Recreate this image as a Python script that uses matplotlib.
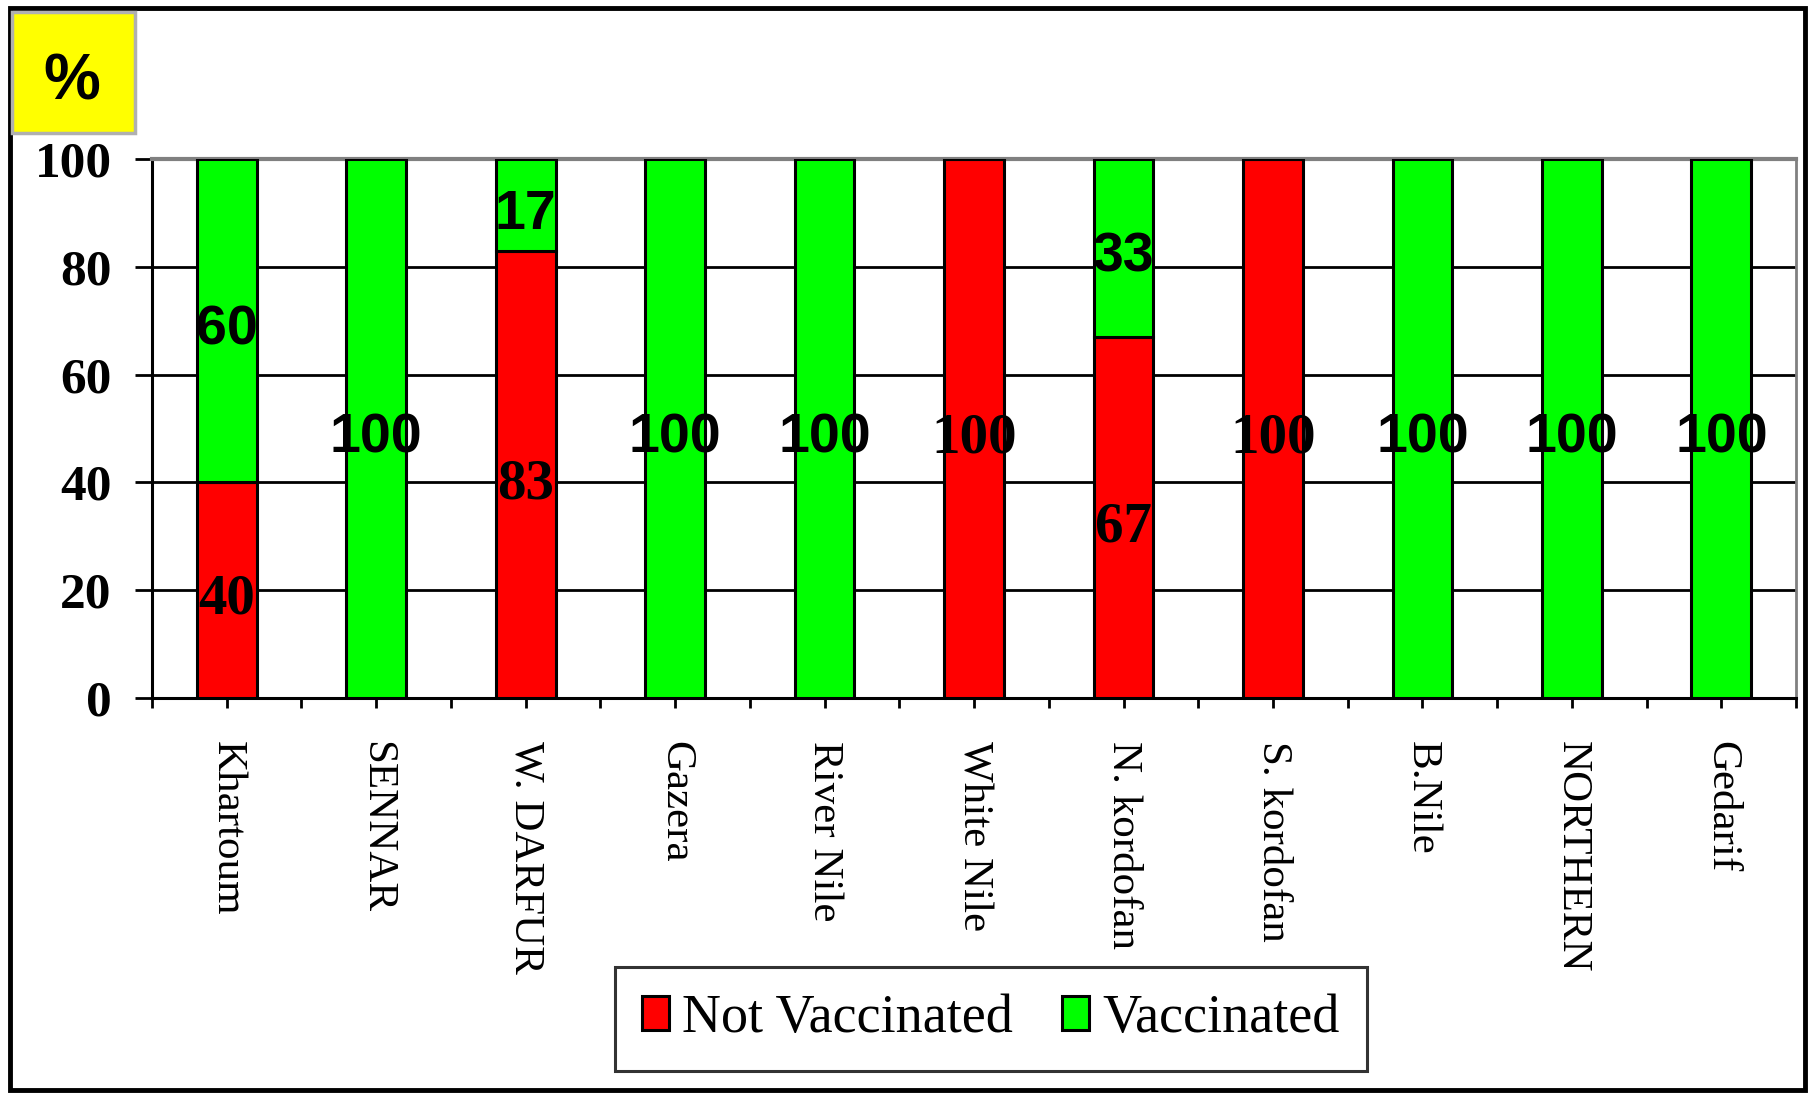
import matplotlib
matplotlib.use("Agg")
import matplotlib.pyplot as plt
import numpy as np
from matplotlib.patches import Rectangle
import matplotlib.transforms as mtransforms

regions = ["Khartoum", "SENNAR", "W. DARFUR", "Gazera", "River Nile", "White Nile",
           "N. kordofan", "S. kordofan", "B.Nile", "NORTHERN", "Gedarif"]
not_vaccinated = [40, 0, 83, 0, 0, 100, 67, 100, 0, 0, 0]
vaccinated = [60, 100, 17, 100, 100, 0, 33, 0, 100, 100, 100]
yticks = [0, 20, 40, 60, 80, 100]

RED = "#FF0000"
GREEN = "#00FF00"
SERIF = "Liberation Serif"
SANS = "Liberation Sans"

fig = plt.figure(figsize=(18.1, 10.93), dpi=100)
ax = fig.add_axes([0.0840, 0.3614, 0.9083, 0.4931])

x = np.arange(len(regions))
nv = np.array(not_vaccinated)
v = np.array(vaccinated)
w = 0.40
ax.bar(x, nv, w, color=RED, edgecolor="black", linewidth=2.2, zorder=3, label="Not Vaccinated")
ax.bar(x, v, w, bottom=nv, color=GREEN, edgecolor="black", linewidth=2.2, zorder=3, label="Vaccinated")

shift = mtransforms.offset_copy(ax.transData, fig=fig, x=0, y=-7, units="points")
for i in range(len(regions)):
    if nv[i] > 0:
        ax.text(x[i], nv[i] / 2, f"{nv[i]}", ha="center", va="center", transform=shift,
                fontsize=41, fontweight="bold", family=SERIF, zorder=5)
    if v[i] > 0:
        ax.text(x[i], nv[i] + v[i] / 2, f"{v[i]}", ha="center", va="center", transform=shift,
                fontsize=40, fontweight="bold", family=SANS, zorder=5)

ax.set_xlim(-0.5, len(regions) - 0.5)
ax.set_ylim(0, 100)
ax.set_yticks(yticks)
ax.set_yticklabels([str(t) for t in yticks], fontsize=37, fontweight="bold", family=SERIF)
ax.tick_params(axis="y", length=12, width=2, pad=17, direction="out")
ax.set_xticks(x)
ax.set_xticklabels(regions, rotation=270, fontsize=31, family=SERIF, va="top", ha="center")
ax.set_xticks(np.arange(-0.5, len(regions)), minor=True)
ax.tick_params(axis="x", which="both", length=7, width=2, direction="out")
ax.tick_params(axis="x", which="major", pad=24)

for t in yticks[1:-1]:
    ax.axhline(t, color="black", linewidth=2.0, zorder=1)

ax.spines["left"].set_linewidth(2.2)
ax.spines["bottom"].set_linewidth(2.2)
ax.spines["top"].set_color("#808080")
ax.spines["top"].set_linewidth(3)
ax.spines["right"].set_color("#808080")
ax.spines["right"].set_linewidth(2)

handles, labels = ax.get_legend_handles_labels()
leg = fig.legend(handles, labels, loc="center", bbox_to_anchor=(0.5475, 0.0677), ncol=2,
                 frameon=True, fancybox=False, edgecolor="black",
                 prop={"family": SERIF, "size": 39},
                 handlelength=0.5, handleheight=0.6, handletextpad=0.25, columnspacing=0.9,
                 borderpad=0.5)
leg.get_frame().set_linewidth(2.2)

# outer border
fig.add_artist(Rectangle((0.0055, 0.003), 0.9920, 0.9900, transform=fig.transFigure,
                         fill=False, edgecolor="black", linewidth=3.5))
# yellow % box
fig.add_artist(Rectangle((12 / 1810, 1 - 133 / 1093), 123 / 1810, 121 / 1093,
                         transform=fig.transFigure, facecolor="#FFFF00",
                         edgecolor="#B0B0B0", linewidth=2.5))
fig.text(72 / 1810, 1 - 82 / 1093, "%", ha="center", va="center", fontsize=46,
         fontweight="bold", family=SANS)

fig.savefig("out.png", dpi=100)
